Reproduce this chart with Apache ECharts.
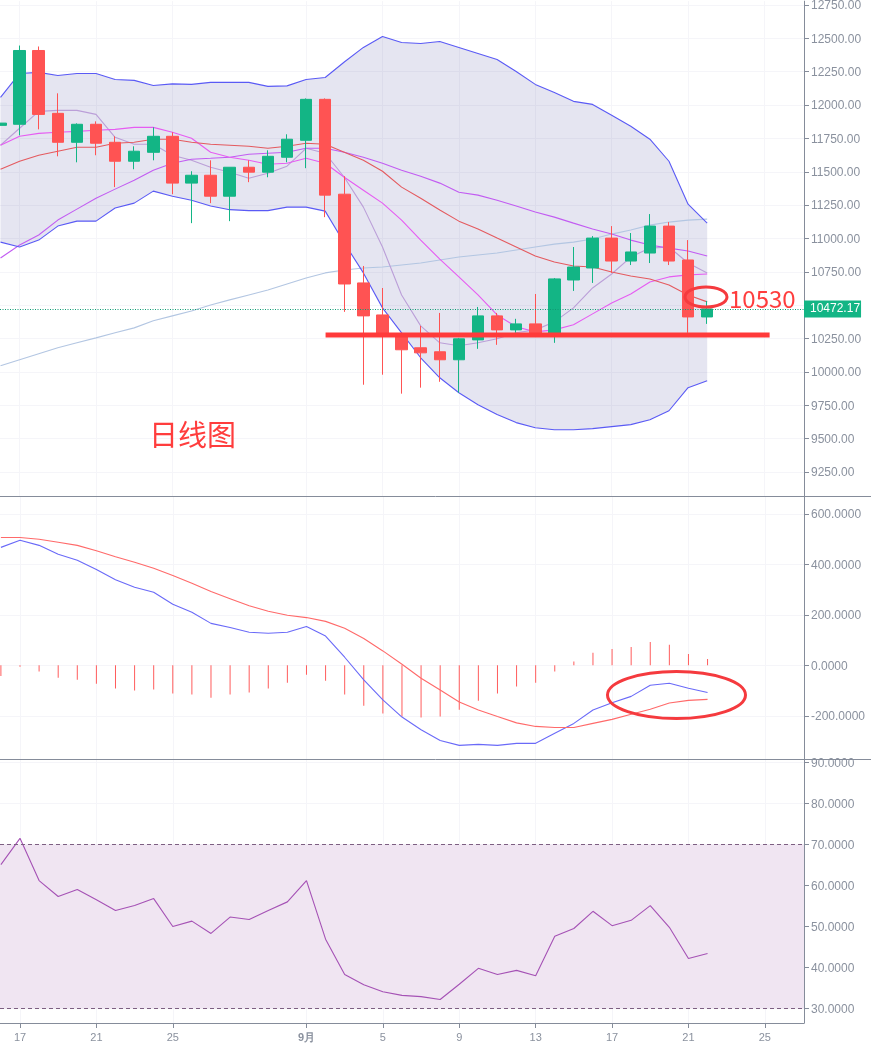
<!DOCTYPE html>
<html><head><meta charset="utf-8">
<style>html,body{margin:0;padding:0;background:#fff}#c{width:875px;height:1051px}</style>
<script src="https://cdn.jsdelivr.net/npm/echarts@6/dist/echarts.min.js"></script>
</head><body><div id="c"></div>
<script>
// one entry per trading day from Aug 16 (index 0) to Sep 22 (index 37): open, close, low, high
const candles = [
[11848,11865,11848,11865],[11856,12409,11773,12446],[12409,11930,11818,12439],[11938,11721,11616,12088],
[11721,11856,11571,11863],[11856,11714,11624,11878],[11721,11579,11385,11766],[11579,11654,11519,11691],
[11646,11766,11586,11833],[11766,11415,11332,11796],[11415,11474,11115,11504],[11474,11317,11265,11586],
[11317,11534,11130,11534],[11534,11497,11422,11586],[11497,11616,11459,11661],[11609,11744,11571,11781],
[11736,12043,11527,12050],[12043,11325,11160,12050],[11332,10659,10450,11467],[10667,10420,9904,10794],
[10427,10285,9979,10629],[10278,10166,9837,10293],[10181,10143,9882,10345],[10151,10091,9926,10442],
[10091,10248,9844,10255],[10240,10420,10173,10487],[10420,10315,10203,10442],[10315,10360,10293,10398],
[10360,10270,10270,10584],[10270,10697,10218,10704],[10689,10786,10607,10936],[10779,11003,10667,11018],
[11003,10831,10742,11093],[10831,10899,10801,11041],[10891,11093,10816,11183],[11093,10831,10801,11123],
[10839,10412,10293,10988],[10412,10472,10360,10532]];
const bollUpper = [12058,12237,12245,12222,12237,12237,12192,12185,12147,12159,12155,12170,12170,12170,12140,12144,12192,12207,12323,12432,12514,12469,12461,12476,12432,12387,12342,12252,12155,12095,12028,12005,11923,11841,11744,11579,11257,11115];
const bollLower = [10973,10936,10988,11093,11130,11130,11228,11265,11355,11317,11287,11243,11216,11209,11209,11235,11235,11205,10966,10742,10480,10293,10106,9956,9844,9754,9680,9620,9582,9567,9567,9575,9590,9605,9642,9709,9882,9934];
const maRed = [11519,11579,11624,11654,11684,11684,11714,11721,11744,11744,11721,11706,11699,11691,11676,11691,11714,11706,11646,11586,11504,11385,11302,11213,11130,11071,11003,10936,10869,10824,10794,10786,10749,10719,10697,10652,10577,10525];
const maMagenta = [11699,11766,11788,11796,11803,11811,11818,11833,11833,11796,11751,11646,11609,11586,11557,11564,11601,11564,11459,11362,11265,11138,10988,10846,10712,10577,10427,10338,10300,10315,10353,10435,10517,10584,10674,10712,10727,10734];
const maPurple = [10854,10951,11026,11138,11220,11302,11370,11437,11512,11564,11594,11601,11609,11631,11639,11646,11676,11676,11646,11609,11564,11512,11467,11415,11347,11325,11287,11243,11198,11160,11115,11071,11033,10988,10951,10928,10906,10869];
const maLilac = [11699,11826,11953,11960,11960,11930,11758,11706,11706,11624,11586,11534,11497,11452,11489,11542,11676,11639,11459,11235,10936,10577,10345,10218,10196,10218,10248,10293,10315,10375,10480,10629,10734,10861,10928,10936,10816,10742];
const maLightBlue = [10046,10091,10136,10181,10218,10255,10293,10330,10383,10420,10457,10502,10540,10577,10614,10659,10704,10742,10764,10779,10786,10801,10816,10839,10861,10876,10891,10914,10936,10958,10973,10996,11033,11063,11100,11123,11138,11145];
const macdDif = [467,495,475,440,416,379,339,309,289,242,210,166,150,131,127,131,154,116,32,-58,-137,-205,-255,-298,-317,-313,-317,-309,-309,-269,-230,-177,-148,-123,-79,-71,-91,-108];
const macdDea = [506,506,499,487,475,454,430,408,384,356,325,292,264,236,214,198,189,174,147,106,57,4,-51,-98,-145,-177,-203,-228,-242,-246,-246,-230,-214,-194,-174,-149,-139,-135];
const macdHist = [-42,-6,-25,-49,-57,-73,-92,-100,-96,-112,-116,-128,-116,-108,-92,-69,-37,-61,-116,-160,-191,-203,-207,-203,-176,-140,-112,-84,-69,-25,15,50,65,73,92,81,45,25];
const rsi = [65.1,71.5,61.2,57.3,59,56.5,53.9,55.1,56.8,50,51.3,48.3,52.3,51.7,53.9,56,61.2,46.9,38.3,35.8,34.1,33.2,32.9,32.2,35.9,39.8,38.3,39.3,38,47.6,49.5,53.7,50.2,51.5,55.1,49.8,42.2,43.4];
const supportLine = [[17.02,10276],[40.27,10276]];
const lastPrice = 10472.17;
const xTickIndex = [1,5,9,16,20,24,28,32,36,40];
const xTickLabels = ['17','21','25','9月','5','9','13','17','21','25'];
const priceTicks = [9250,9500,9750,10000,10250,10500,10750,11000,11250,11500,11750,12000,12250,12500,12750];
const priceLabelTicks = priceTicks.filter(v => v !== 10500);
const macdTicks = [-200,0,200,400,600];
const rsiTicks = [30,40,50,60,70,80,90];

const GREY = '#8a919e', AXIS = '#858c9a', GRIDC = '#f5f5f9', FONT = '"Liberation Sans", Arial, sans-serif';
const pts = a => a.map((v, i) => [i, v]);

function xAxis(g, withLabel, shift) {
  return { type:'value', gridIndex:g, min:-0.047 + shift, max:42.05 + shift, position:'bottom',
    axisLine:{ show:withLabel, onZero:false, lineStyle:{color:AXIS, width:1} },
    axisTick:{ show:withLabel, length:5, customValues:xTickIndex, lineStyle:{color:AXIS} },
    splitLine:{ show:true, lineStyle:{color:GRIDC, width:1} },
    axisLabel:{ show:withLabel, customValues:xTickIndex, color:GREY, fontSize:11, fontFamily:FONT, margin:9,
      formatter:v => { const s = xTickLabels[xTickIndex.indexOf(Math.round(v))]; return s === '9月' ? '{b|9月}' : s; },
      rich:{ b:{ fontWeight:'bold', color:GREY, fontSize:11, fontFamily:FONT } } } };
}
function yAxis(g, min, max, ticks, labelTicks, digits) {
  return { type:'value', gridIndex:g, min, max, position:'right', scale:true,
    axisLine:{ show:true, onZero:false, lineStyle:{color:AXIS, width:1} },
    axisTick:{ show:true, length:5, customValues:ticks, lineStyle:{color:AXIS} },
    splitLine:{ show:true, lineStyle:{color:GRIDC, width:1} },
    axisLabel:{ customValues:labelTicks, color:GREY, fontSize:12, fontFamily:FONT, margin:7,
      formatter:v => '{a|' + v.toFixed(digits) + '}',
      rich:{ a:{ color:GREY, fontSize:12, fontFamily:FONT, padding:[2,0,0,0] } } } };
}
function line(name, arr, color, x, z, width) {
  return { name, type:'line', data:pts(arr), xAxisIndex:x, yAxisIndex:x, showSymbol:false, silent:true, z:z||3,
    lineStyle:{ color, width:width||1.1 }, itemStyle:{color} };
}
function bandItem(params, api) {
  if (params.dataIndex !== 0) return null;
  const top = bollUpper.map((v, i) => api.coord([i, v]));
  const bottom = bollLower.map((v, i) => api.coord([i, v])).reverse();
  return { type:'polygon', shape:{ points:top.concat(bottom) }, style:{ fill:'rgba(68,68,155,0.14)' } };
}

const option = {
  animation:false, backgroundColor:'#fff',
  grid:[
    {left:0, top:0, width:804, height:496},
    {left:0, top:497, width:804, height:262},
    {left:0, top:760, width:804, height:263}
  ],
  xAxis:[xAxis(0,false,0.02), xAxis(1,false,0), xAxis(2,true,0)],
  yAxis:[
    yAxis(0, 9070, 12779, priceTicks, priceLabelTicks, 2),
    yAxis(1, -371, 666.5, macdTicks, macdTicks, 4),
    yAxis(2, 26.46, 90.6, rsiTicks, rsiTicks, 4)
  ],
  series:[
    { name:'bollBand', type:'custom', data:pts(bollUpper), renderItem:bandItem, encode:{x:0, y:1}, silent:true, clip:true, z:1 },
    line('maLightBlue', maLightBlue, '#b3c6e2', 0),
    line('maLilac', maLilac, '#bb9fd8', 0),
    line('maPurple', maPurple, '#c25cf2', 0),
    line('maMagenta', maMagenta, '#e65cf2', 0),
    line('maRed', maRed, '#e45a5f', 0),
    line('bollUpper', bollUpper, '#5a5af5', 0),
    line('bollLower', bollLower, '#5a5af5', 0),
    { name:'price', type:'candlestick', data:candles.map((c, i) => [i, ...c]), encode:{x:0, y:[1,2,3,4]}, barWidth:12, silent:true, z:4,
      itemStyle:{ color:'#13b585', color0:'#ff5353', borderColor:'#13b585', borderColor0:'#ff5353', borderWidth:1 },
      markLine:{ silent:true, symbol:'none', z:6,
        lineStyle:{ color:'#0f9a72', type:[1,1.5], width:1 },
        label:{ show:true, position:'end', distance:0, formatter:lastPrice.toFixed(2), color:'#fff', fontSize:12, fontFamily:FONT,
          backgroundColor:'#13b585', padding:[3,1,2,6] },
        data:[{ yAxis:lastPrice }] } },
    { name:'support', type:'line', data:supportLine, showSymbol:false, silent:true, z:5, lineStyle:{ color:'#ff3a3a', width:5 } },

    { name:'hist', type:'bar', data:pts(macdHist), xAxisIndex:1, yAxisIndex:1, barWidth:1, silent:true, itemStyle:{color:'#ff5c5c'}, z:2 },
    line('dif', macdDif, '#6a6af8', 1),
    line('dea', macdDea, '#ff6a6a', 1),

    { name:'rsi', type:'line', data:pts(rsi), xAxisIndex:2, yAxisIndex:2, showSymbol:false, silent:true, z:3,
      lineStyle:{ color:'#a552b5', width:1.1 },
      markArea:{ silent:true, itemStyle:{color:'#f0e5f2'}, data:[[{yAxis:30},{yAxis:70}]] },
      markLine:{ silent:true, symbol:'none', label:{show:false}, lineStyle:{ color:'#7d5f82', type:[4,3], width:1 },
        data:[{yAxis:30},{yAxis:70}] } }
  ],
  graphic:[
    { type:'line', z:10, shape:{x1:0,y1:496.5,x2:871,y2:496.5}, style:{stroke:AXIS, lineWidth:1} },
    { type:'line', z:10, shape:{x1:0,y1:759.5,x2:871,y2:759.5}, style:{stroke:AXIS, lineWidth:1} },
    { type:'ellipse', z:11, shape:{cx:706,cy:297,rx:21,ry:10}, style:{fill:'none', stroke:'#f53a3e', lineWidth:3} },
    { type:'ellipse', z:11, shape:{cx:676.5,cy:695,rx:69,ry:23.5}, style:{fill:'none', stroke:'#f53a3e', lineWidth:3} },
    { type:'text', z:11, x:729, y:299, style:{ text:'10530', fill:'#ff3d3d', font:'24px "Noto Sans CJK SC"', textVerticalAlign:'middle' } },
    { type:'text', z:11, x:149, y:435, style:{ text:'日线图', fill:'#ff3d3d', font:'29px "Noto Sans CJK SC"', textVerticalAlign:'middle' } }
  ]
};
const chart = echarts.init(document.getElementById('c'), null, {renderer:'canvas'});
chart.setOption(option);
</script></body></html>
